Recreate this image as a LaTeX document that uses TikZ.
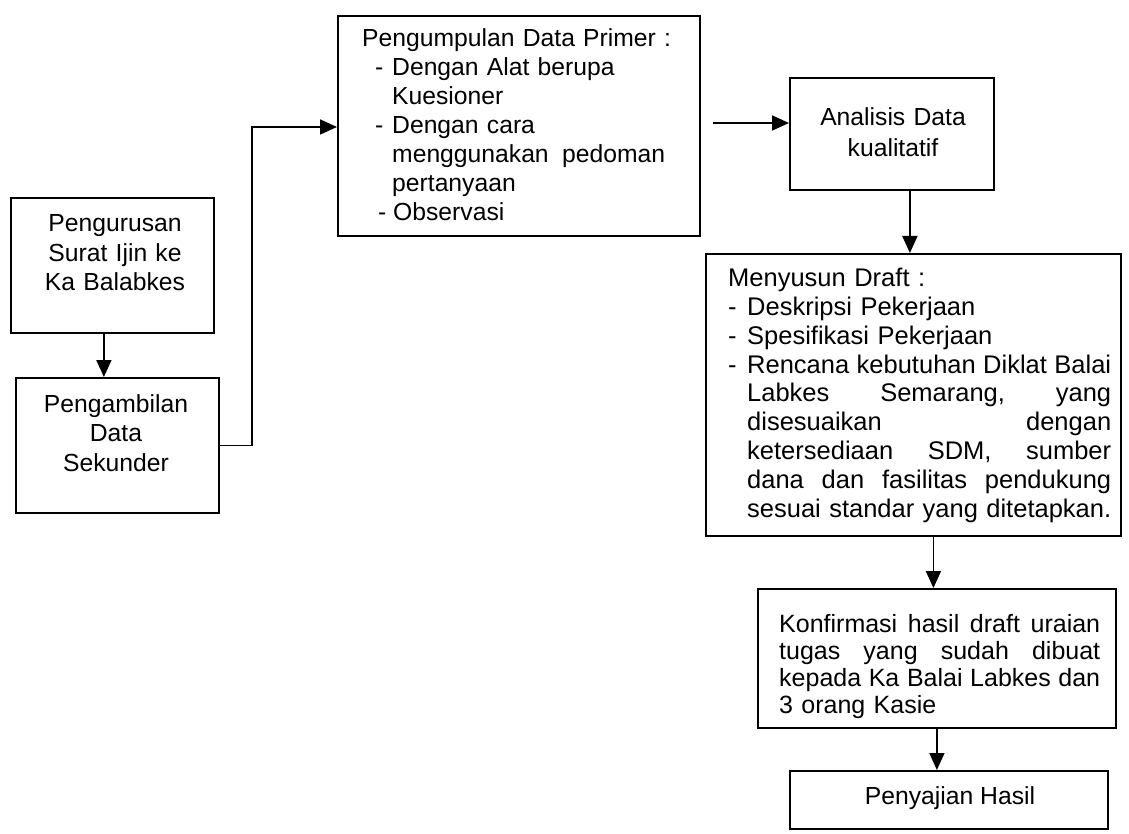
\documentclass[tikz,border=0pt]{standalone}
\usepackage{fontspec}
\setmainfont{Liberation Sans}
\usetikzlibrary{arrows.meta}
\newcommand\dashitem{\makebox[19pt][l]{-}}
\newcommand\jline[2]{\leavevmode\hbox to #1{#2}}
\begin{document}
\begin{tikzpicture}[x=1pt,y=-1pt,
  box/.style={draw, line width=1.8pt, inner sep=0pt, anchor=north west},
  txt/.style={inner sep=0pt},
  arr/.style={line width=1.8pt, -{Triangle[length=17pt,width=15pt]}}]
\useasboundingbox[fill=white] (0,0) rectangle (1129,834);

% boxes
\node[box, minimum width=203pt, minimum height=135pt] (b1) at (10,197) {};
\node[box, minimum width=203pt, minimum height=135pt] (b2) at (15,377) {};
\node[box, minimum width=362pt, minimum height=220pt] (b3) at (337,15) {};
\node[box, minimum width=204pt, minimum height=112pt] (b4) at (789,77) {};
\node[box, minimum width=415pt, minimum height=282pt] (b5) at (705,253) {};
\node[box, minimum width=358pt, minimum height=139pt] (b6) at (757,588) {};
\node[box, minimum width=318pt, minimum height=58pt] (b7) at (789,770) {};

% texts
\node[txt, anchor=base, text width=200pt, align=center,
  font=\fontsize{24.7}{29.5}\selectfont] (t1) at (115,232)
  {Pengurusan\\Surat Ijin ke\\Ka Balabkes};
\node[txt, anchor=base, text width=200pt, align=center,
  font=\fontsize{24.7}{29.5}\selectfont] (t2) at (116,412)
  {Pengambilan\\Data\\Sekunder};
\node[txt, anchor=base west, text width=330pt, align=left,
  font=\fontsize{24.7}{29}\selectfont] (t3) at (362,47)
  {Pengumpulan Data Primer :\\
   \hspace*{13pt}\makebox[17pt][l]{-}Dengan Alat berupa\\
   \hspace*{30pt}Kuesioner\\
   \hspace*{13pt}\makebox[17pt][l]{-}Dengan cara\\
   \hspace*{30pt}\jline{273pt}{menggunakan\hfill pedoman}\\
   \hspace*{30pt}pertanyaan\\
   \hspace*{16pt}\makebox[15pt][l]{-}Observasi};
\node[txt, anchor=base, text width=200pt, align=center,
  font=\fontsize{24.7}{31}\selectfont] (t4) at (893,126)
  {Analisis Data\\kualitatif};
\node[txt, anchor=base west, text width=390pt, align=left,
  font=\fontsize{25.5}{28.75}\selectfont] (t5) at (728,287)
  {Menyusun Draft :\\
   \dashitem Deskripsi Pekerjaan\\
   \dashitem Spesifikasi Pekerjaan\\
   \dashitem\jline{364pt}{Rencana\hfill kebutuhan\hfill Diklat\hfill Balai}\\
   \hspace*{19pt}\jline{364pt}{Labkes\hfill Semarang,\hfill yang}\\
   \hspace*{19pt}\jline{364pt}{disesuaikan\hfill dengan}\\
   \hspace*{19pt}\jline{364pt}{ketersediaan\hfill SDM,\hfill sumber}\\
   \hspace*{19pt}\jline{364pt}{dana\hfill dan\hfill fasilitas\hfill pendukung}\\
   \hspace*{19pt}\jline{364pt}{sesuai\hfill standar\hfill yang\hfill ditetapkan.}};
\node[txt, anchor=base west, text width=330pt, align=left,
  font=\fontsize{25}{27}\selectfont] (t6) at (779,632)
  {\jline{321pt}{Konfirmasi\hfill hasil\hfill draft\hfill uraian}\\
   \jline{321pt}{tugas\hfill yang\hfill sudah\hfill dibuat}\\
   \jline{321pt}{kepada\hfill Ka\hfill Balai\hfill Labkes\hfill dan}\\
   3 orang Kasie};
\node[txt, anchor=base, font=\fontsize{24.7}{29}\selectfont] (t7) at (950,804)
  {Penyajian Hasil};

% connectors
\coordinate (c1) at (252,127);
\coordinate (a34) at (713,123);
\draw[arr] ([xshift=-8.5pt]b1.south) -- ([xshift=-8.5pt]b1.south |- b2.north);
\draw[arr] (b2.east) -| (c1) -- (c1 -| b3.west);
\draw[arr] (a34) -- (a34 -| b4.west);
\draw[arr] ([xshift=18pt]b4.south) -- ([xshift=18pt]b4.south |- b5.north);
\draw[arr] ([xshift=20pt]b5.south) -- ([xshift=20pt]b5.south |- b6.north);
\draw[arr] (b6.south) -- (b6.south |- b7.north);
\end{tikzpicture}
\end{document}
